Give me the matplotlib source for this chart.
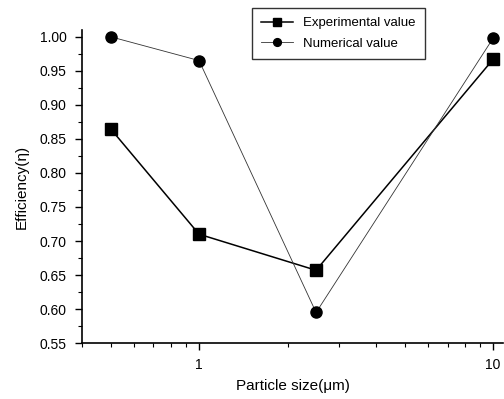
import matplotlib
matplotlib.use("Agg")
import matplotlib.pyplot as plt
from matplotlib.ticker import FixedLocator, LogLocator, NullFormatter, MultipleLocator, FormatStrFormatter

plt.rcParams['font.family'] = ['Liberation Sans', 'DejaVu Sans']

particle_size = [0.5, 1, 2.5, 10]
experimental = [0.865, 0.71, 0.657, 0.967]
numerical = [1.0, 0.965, 0.595, 0.998]

fig = plt.figure(figsize=(5.04, 3.99), dpi=100)
ax = fig.add_axes([82/504, 0.140, (503-82)/504, 0.925-0.140])

ax.plot(particle_size, experimental, color='black', lw=1.1, marker='s', ms=8,
        label='Experimental value')
ax.plot(particle_size, numerical, color='#333333', lw=0.6, marker='o', ms=8,
        markerfacecolor='black', markeredgecolor='black', label='Numerical value')

ax.set_xscale('log')
ax.set_xlim(0.4, 10.8)
ax.set_ylim(0.55, 1.01)
ax.xaxis.set_major_locator(FixedLocator([1, 10]))
ax.xaxis.set_major_formatter(FormatStrFormatter('%g'))
ax.xaxis.set_minor_locator(LogLocator(base=10, subs=range(2, 10)))
ax.xaxis.set_minor_formatter(NullFormatter())
ax.yaxis.set_major_locator(MultipleLocator(0.05))
ax.yaxis.set_minor_locator(MultipleLocator(0.025))
ax.yaxis.set_major_formatter(FormatStrFormatter('%.2f'))

for s in ['top', 'right']:
    ax.spines[s].set_visible(False)
for s in ['left', 'bottom']:
    ax.spines[s].set_linewidth(1.2)

ax.tick_params(which='major', direction='out', length=5, width=1, labelsize=10, pad=6)
ax.tick_params(which='minor', direction='out', length=3, width=0.8)

ax.set_xlabel('Particle size(μm)', fontsize=11, labelpad=5)
ax.set_ylabel('Efficiency(η)', fontsize=11, labelpad=8)

leg = ax.legend(loc='upper left', bbox_to_anchor=((252-82)/421, (343-8)/313),
                fontsize=9.5, frameon=True, fancybox=False, edgecolor='black',
                handlelength=2.4, markerscale=0.7, borderpad=0.7, labelspacing=0.6,
                borderaxespad=0)
leg.get_frame().set_linewidth(1.0)

fig.savefig('out.png', dpi=100)
